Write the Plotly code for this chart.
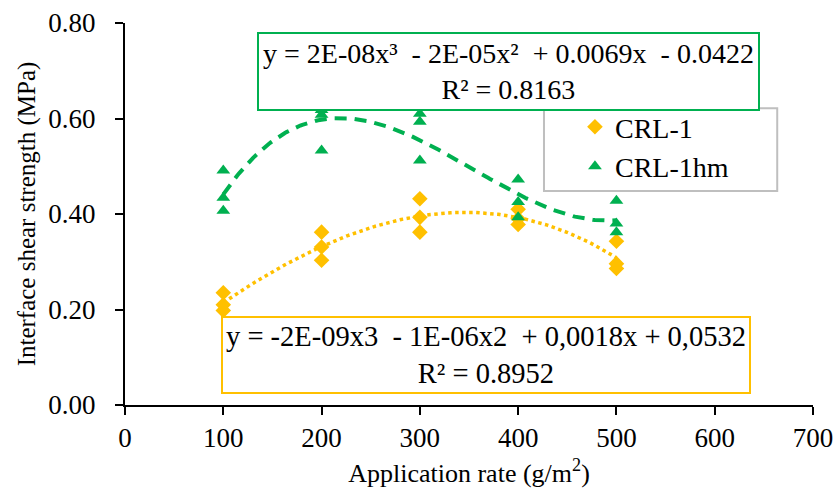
import numpy as np
import plotly.graph_objects as go

# Data
rate_crl1 = [100, 100, 100, 200, 200, 200, 300, 300, 300, 400, 400, 400, 500, 500, 500]
shear_crl1 = [0.235, 0.210, 0.198, 0.362, 0.331, 0.303, 0.432, 0.393, 0.362, 0.410, 0.390, 0.378, 0.343, 0.296, 0.286]

rate_crl1hm = [100, 100, 100, 200, 200, 200, 300, 300, 300, 400, 400, 400, 500, 500, 500]
shear_crl1hm = [0.491, 0.434, 0.407, 0.618, 0.608, 0.533, 0.610, 0.593, 0.512, 0.472, 0.425, 0.393, 0.428, 0.380, 0.362]

NB = "\u00a0"
eq_crl1 = f"y = -2E-09x3 {NB}- 1E-06x2 {NB}+ 0,0018x + 0,0532<br>R² = 0.8952"
eq_crl1hm = f"y = 2E-08x³ {NB}- 2E-05x² {NB}+ 0.0069x {NB}- 0.0422<br>R² = 0.8163"

x_ticks = [0, 100, 200, 300, 400, 500, 600, 700]
y_ticks = [0.0, 0.2, 0.4, 0.6, 0.8]

YELLOW = "#FFC000"
GREEN = "#00B050"
FONT = "Liberation Serif"

xs = np.linspace(100, 500, 200)
fit1 = np.polyval(np.polyfit(rate_crl1, shear_crl1, 3), xs)
fit2 = np.polyval(np.polyfit(rate_crl1hm, shear_crl1hm, 3), xs)

fig = go.Figure()
fig.add_trace(go.Scatter(x=xs, y=fit1, mode="lines", showlegend=False,
                         line=dict(color=YELLOW, width=3.5, dash="dot"), hoverinfo="skip"))
fig.add_trace(go.Scatter(x=xs, y=fit2, mode="lines", showlegend=False,
                         line=dict(color=GREEN, width=4, dash="12px,8px"), hoverinfo="skip"))
fig.add_trace(go.Scatter(x=rate_crl1, y=shear_crl1, mode="markers", name="CRL-1",
                         legendgroup="a",
                         marker=dict(symbol="diamond", size=12, color=YELLOW)))
fig.add_trace(go.Scatter(x=rate_crl1hm, y=shear_crl1hm, mode="markers", name="CRL-1hm",
                         legendgroup="b",
                         marker=dict(symbol="triangle-up", size=12, color=GREEN)))

fig.add_annotation(x=390, y=0.698, xref="x", yref="y", text=eq_crl1hm, showarrow=False,
                   font=dict(family=FONT, size=28, color="black"), align="center",
                   bordercolor=GREEN, borderwidth=2, borderpad=4, bgcolor="white")
fig.add_annotation(x=367, y=0.1057, xref="x", yref="y", text=eq_crl1, showarrow=False,
                   font=dict(family=FONT, size=28.5, color="black"), align="center",
                   bordercolor=YELLOW, borderwidth=2, borderpad=3, bgcolor="white")

# legend frame
fig.add_shape(type="rect", xref="paper", yref="paper", x0=0.609, x1=0.948, y0=0.56, y1=0.777,
              line=dict(color="#BFBFBF", width=2), fillcolor="white", layer="above")

fig.update_layout(
    width=837, height=492,
    margin=dict(l=125, r=24, t=23, b=87),
    plot_bgcolor="white", paper_bgcolor="white",
    font=dict(family=FONT, size=26, color="black"),
    legend=dict(x=0.654, y=0.793, xanchor="left", yanchor="top",
                borderwidth=0, bgcolor="rgba(0,0,0,0)",
                font=dict(family=FONT, size=28), itemwidth=30,
                tracegroupgap=0),
    xaxis=dict(range=[0, 700], tickvals=x_ticks, showgrid=False, zeroline=False,
               showline=True, linecolor="black", linewidth=2, automargin=False,
               ticks="outside", ticklen=8, tickwidth=2, tickcolor="black",
               tickfont=dict(family=FONT, size=27),
               title=dict(text="Application rate (g/m<sup>2</sup>)",
                          font=dict(family=FONT, size=26), standoff=11)),
    yaxis=dict(range=[0, 0.8], tickvals=y_ticks, tickformat=".2f", showgrid=False, zeroline=False,
               showline=True, linecolor="black", linewidth=2, automargin=False,
               ticks="outside", ticklen=8, tickwidth=2, tickcolor="black",
               ticklabelstandoff=14,
               tickfont=dict(family=FONT, size=27),
               title=dict(text="Interface shear strength (MPa)",
                          font=dict(family=FONT, size=25), standoff=6)),
)

fig.write_html("out.html", config={"displayModeBar": False},
               post_script="document.body.style.margin='0';")
